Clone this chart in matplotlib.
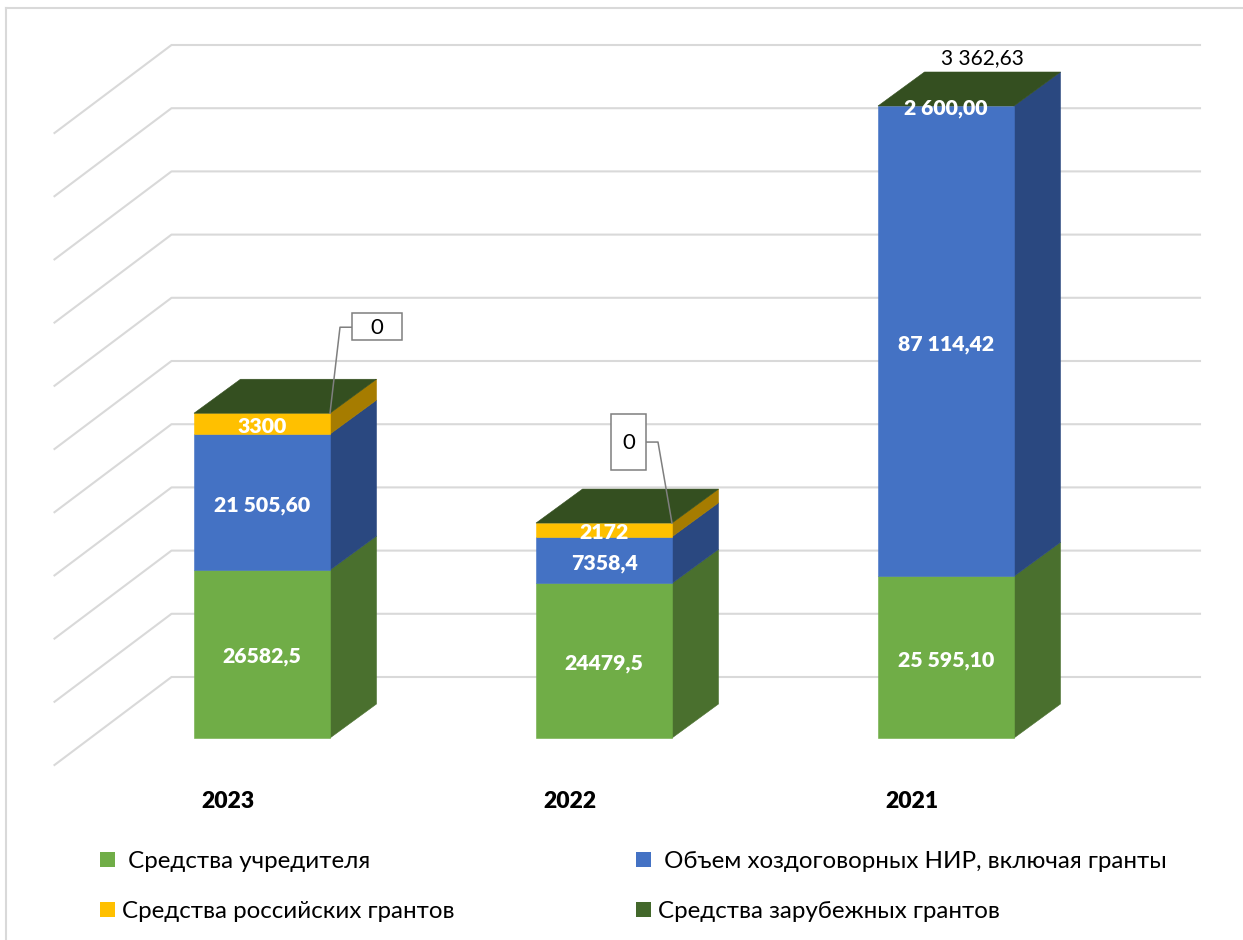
import matplotlib
matplotlib.use('Agg')
import matplotlib.pyplot as plt
from matplotlib.patches import Patch, Polygon, Rectangle
import numpy as np

plt.rcParams['font.family'] = ['Lato', 'Open Sans', 'DejaVu Sans']

years = ['2023', '2022', '2021']
founder = [26582.5, 24479.5, 25595.10]
contracts = [21505.60, 7358.4, 87114.42]
russian_grants = [3300, 2172, 2600.00]
foreign_grants = [0, 0, 3362.63]

founder_labels = ['26582,5', '24479,5', '25 595,10']
contracts_labels = ['21 505,60', '7358,4', '87 114,42']
russian_labels = ['3300', '2172', '2 600,00']
foreign_labels = ['0', '0', '3 362,63']

series_names = [' Средства учредителя', 'Средства российских грантов',
                ' Объем хоздоговорных НИР, включая гранты', 'Средства зарубежных грантов']

y_max = 100000
grid_values = np.arange(0, y_max + 1, 10000)

# one category = 342 px, 10000 = 63.2 px
px_x = 1 / 342
px_y = 1 / 0.00632
bar_w = 136 * px_x
depth_x = 46.5 * px_x
depth_y = 34 * px_y
wall_x = 172 * px_x - 262.5 * px_x
wall_y = 61 * px_y
label_drop = 3 * px_y

front = {'founder': '#70AD47', 'contracts': '#4472C4', 'russian': '#FFC000'}
side = {'founder': '#4A702E', 'contracts': '#2A4880', 'russian': '#A67C00'}
top_color = '#344F20'
foreign_color = '#43682B'
grid_color = '#D9D9D9'
edge_w = 0.4

fig = plt.figure(figsize=(12.43, 9.40), dpi=100)
ax = fig.add_axes([0, 0, 1, 1])
ax.set_xlim(-262 * px_x, (1243 - 262) * px_x)
ax.set_ylim((738 - 940) * px_y, 738 * px_y)
ax.axis('off')

# outer chart border
ax.plot([-256 * px_x, -256 * px_x], [(738 - 940) * px_y, 730 * px_y], color=grid_color, lw=1.5)
ax.plot([-256 * px_x, (1243 - 262) * px_x], [730 * px_y, 730 * px_y], color=grid_color, lw=1.5)

# walls
for v in grid_values:
    y = v + wall_y
    ax.plot([wall_x - 117 * px_x, wall_x, 938 * px_x], [y - 88 * px_y, y, y],
            color=grid_color, lw=1.5, solid_joinstyle='round', zorder=1)


def draw_segment(x, low, high, name):
    left = x - bar_w / 2
    right = x + bar_w / 2
    ax.add_patch(Polygon([(right, low), (right + depth_x, low + depth_y),
                          (right + depth_x, high + depth_y), (right, high)],
                         facecolor=side[name], edgecolor=side[name], lw=edge_w, zorder=3))
    ax.add_patch(Polygon([(left, low), (right, low), (right, high), (left, high)],
                         facecolor=front[name], edgecolor=front[name], lw=edge_w, zorder=4))


def white_label(x, y, text):
    ax.text(x, y - label_drop, text, color='white', fontsize=15.3,
            fontweight=800, ha='center', va='center', zorder=6)


for i in range(len(years)):
    stack = np.cumsum([0, founder[i], contracts[i], russian_grants[i], foreign_grants[i]])
    # the value axis stops at y_max, taller stacks get cut there
    stack = np.clip(stack, 0, y_max)
    draw_segment(i, stack[0], stack[1], 'founder')
    draw_segment(i, stack[1], stack[2], 'contracts')
    if stack[3] > stack[2]:
        draw_segment(i, stack[2], stack[3], 'russian')
    top = stack[4]
    left = i - bar_w / 2
    right = i + bar_w / 2
    ax.add_patch(Polygon([(left, top), (right, top), (right + depth_x, top + depth_y),
                          (left + depth_x, top + depth_y)],
                         facecolor=top_color, edgecolor=top_color, lw=edge_w, zorder=5))

    white_label(i, (stack[0] + stack[1]) / 2, founder_labels[i])
    white_label(i, (stack[1] + stack[2]) / 2, contracts_labels[i])
    white_label(i, (stack[2] + stack[3]) / 2, russian_labels[i])
    ax.text(i - 34 * px_x, -64 * px_y, years[i], color='black', fontsize=16.5,
            fontweight=800, ha='center', va='center')

# labels of the foreign grants series
top_2021 = min(founder[2] + contracts[2] + russian_grants[2] + foreign_grants[2], y_max)
ax.text(2 + 36 * px_x, top_2021 + 47.5 * px_y, foreign_labels[2], fontsize=15,
        ha='center', va='center', zorder=6)

top_2023 = founder[0] + contracts[0] + russian_grants[0]
corner = 0 + bar_w / 2
ax.plot([corner, corner + 10 * px_x, corner + 22 * px_x],
        [top_2023, top_2023 + 86 * px_y, top_2023 + 86 * px_y], color='#7F7F7F', lw=1.1, zorder=7)
ax.add_patch(Rectangle((corner + 22 * px_x, top_2023 + 73 * px_y), 50 * px_x, 27 * px_y,
                       facecolor='white', edgecolor='#7F7F7F', lw=1.1, zorder=7))
ax.text(corner + 47 * px_x, top_2023 + 85.5 * px_y, foreign_labels[0], fontsize=16,
        ha='center', va='center', zorder=8)

top_2022 = founder[1] + contracts[1] + russian_grants[1]
corner = 1 + bar_w / 2
ax.plot([corner, corner - 14 * px_x, corner - 26 * px_x],
        [top_2022, top_2022 + 81 * px_y, top_2022 + 81 * px_y], color='#7F7F7F', lw=1.1, zorder=7)
ax.add_patch(Rectangle((corner - 61 * px_x, top_2022 + 53 * px_y), 35 * px_x, 56 * px_y,
                       facecolor='white', edgecolor='#7F7F7F', lw=1.1, zorder=7))
ax.text(corner - 43.5 * px_x, top_2022 + 80 * px_y, foreign_labels[1], fontsize=16,
        ha='center', va='center', zorder=8)

handles = [Patch(facecolor=front['founder']), Patch(facecolor=front['russian']),
           Patch(facecolor=front['contracts']), Patch(facecolor=foreign_color)]
ax.legend(handles, series_names, ncols=2, frameon=False, fontsize=17.4,
          loc='upper left', bbox_to_anchor=(100 / 1243, 1 - 851 / 940), borderaxespad=0, borderpad=0,
          handlelength=0.62, handleheight=0.62, handletextpad=0.27,
          columnspacing=7.55, labelspacing=1.2)

fig.savefig('out.png', dpi=100)
